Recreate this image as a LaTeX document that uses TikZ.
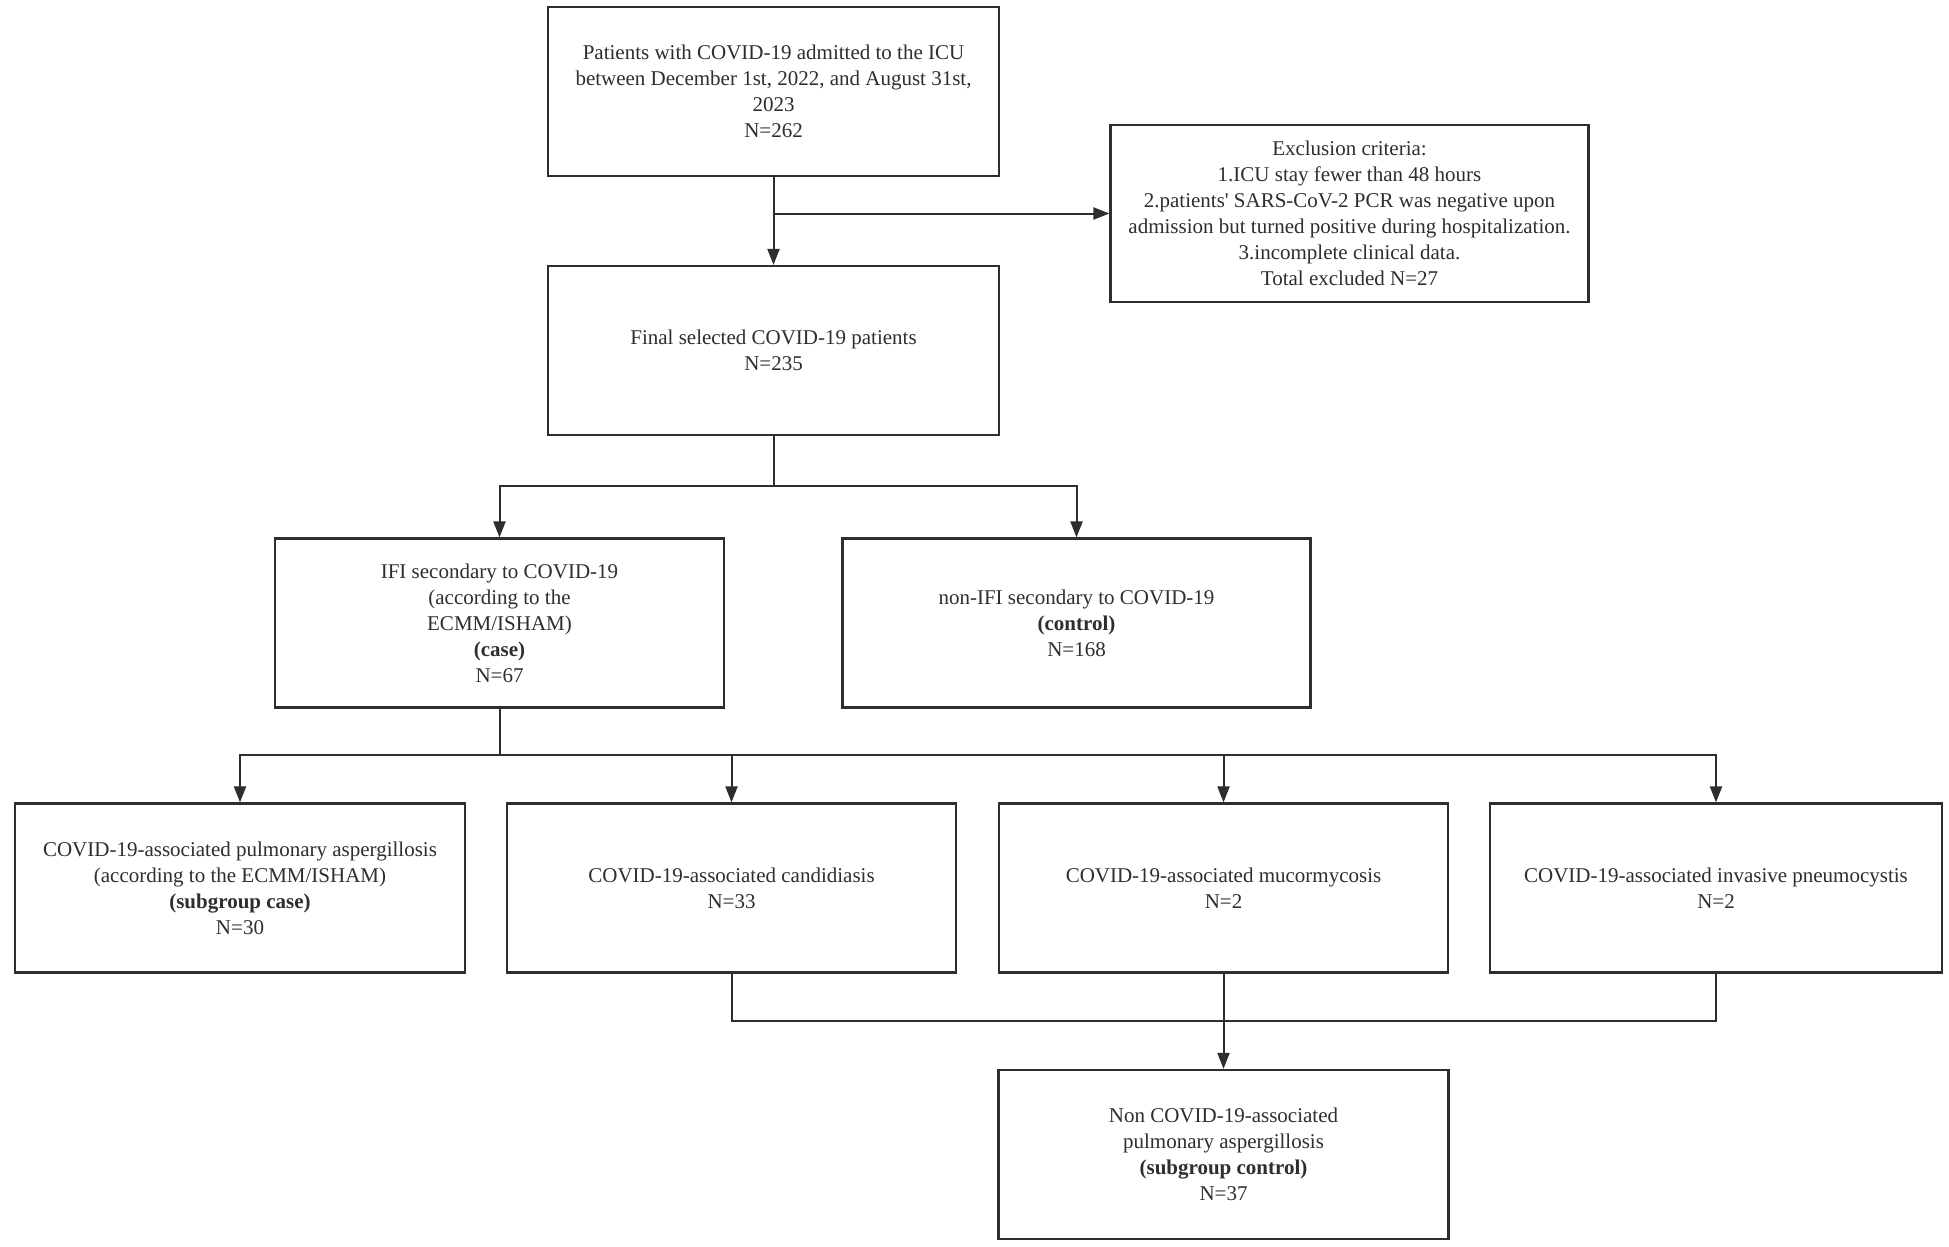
\documentclass[tikz,border=0pt]{standalone}
\usepackage{fontspec}
\setmainfont{Liberation Serif}[Ligatures=TeXOff]
\usetikzlibrary{arrows.meta,calc}
\definecolor{ink}{HTML}{2E2E2E}
\tikzset{
  box/.style={draw=ink, line width=1.1pt, text=ink, align=center, inner sep=2pt,
    font=\fontsize{10.5}{13}\selectfont, minimum height=84.5pt},
  conn/.style={draw=ink, line width=1pt},
  arr/.style={conn, -{Triangle[length=8pt,width=6pt]}},
}
\begin{document}
\begin{tikzpicture}[x=0.5pt,y=-0.5pt]
\fill[white] (0,0) rectangle (1949,1247);
\useasboundingbox (0,0) rectangle (1949,1247);

\node[box, minimum width=225.5pt] (top) at (773.5,91.5)
  {Patients with COVID-19 admitted to the ICU\\between December 1st, 2022, and August 31st,\\2023\\N=262};
\node[box, minimum width=239pt, minimum height=88.5pt] (excl) at (1349.5,213.5)
  {Exclusion criteria:\\1.ICU stay fewer than 48 hours\\2.patients' SARS-CoV-2 PCR was negative upon\\admission but turned positive during hospitalization.\\3.incomplete clinical data.\\Total excluded N=27};
\node[box, minimum width=225.5pt] (sel) at (773.5,350.5)
  {Final selected COVID-19 patients\\N=235};
\node[box, minimum width=224.5pt] (ifi) at (499.5,623)
  {IFI secondary to COVID-19\\(according to the\\ECMM/ISHAM)\\\textbf{(case)}\\N=67};
\node[box, minimum width=234pt] (non) at (1076.5,623)
  {non-IFI secondary to COVID-19\\\textbf{(control)}\\N=168};
\node[box, minimum width=225pt] (b1) at (240,888)
  {COVID-19-associated pulmonary aspergillosis\\(according to the ECMM/ISHAM)\\\textbf{(subgroup case)}\\N=30};
\node[box, minimum width=224.5pt] (b2) at (731.5,888)
  {COVID-19-associated candidiasis\\N=33};
\node[box, minimum width=224.5pt] (b3) at (1223.5,888)
  {COVID-19-associated mucormycosis\\N=2};
\node[box, minimum width=226pt] (b4) at (1716,888)
  {COVID-19-associated invasive pneumocystis\\N=2};
\node[box, minimum width=225pt] (fin) at (1223.5,1154.5)
  {Non COVID-19-associated\\pulmonary aspergillosis\\\textbf{(subgroup control)}\\N=37};

\coordinate (br1) at (773.5,486);
\coordinate (br2) at (499.5,755);
\coordinate (mg) at (1223.5,1021);

\draw[arr] (top.south) -- (sel.north);
\draw[arr] (top.south |- excl.west) -- (excl.west);

\draw[conn] (sel.south) -- (br1);
\draw[arr] (br1) -| (ifi.north);
\draw[arr] (br1) -| (non.north);

\draw[conn] (ifi.south) -- (br2);
\draw[arr] (br2) -| (b1.north);
\draw[arr] (br2) -| (b2.north);
\draw[arr] (br2) -| (b3.north);
\draw[arr] (br2) -| (b4.north);

\draw[conn] (b2.south) |- (mg);
\draw[conn] (b4.south) |- (mg);
\draw[arr] (b3.south) -- (fin.north);
\end{tikzpicture}
\end{document}
